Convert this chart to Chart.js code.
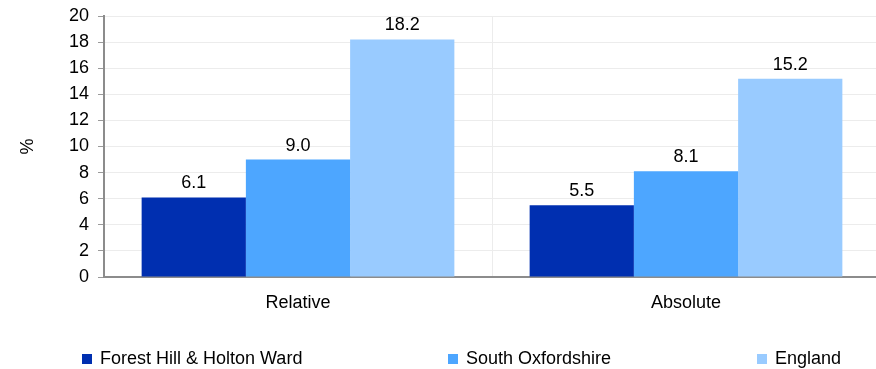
<!DOCTYPE html>
<html>
<head>
<meta charset="utf-8">
<script src="https://cdn.jsdelivr.net/npm/chart.js@4/dist/chart.umd.min.js"></script>
<style>
  html, body { margin: 0; padding: 0; background: #fff; overflow: hidden; width: 876px; height: 369px; }
  #wrap { position: relative; width: 876px; height: 369px; overflow: hidden; }
  canvas { position: absolute; left: 0; top: 0; }
  .lg { position: absolute; font-family: 'Liberation Sans', Arial, sans-serif; font-size: 18px; line-height: 18px; color: #000; white-space: nowrap; }
  .box { position: absolute; width: 10px; height: 10px; }
</style>
</head>
<body>
<div id="wrap">
  <canvas id="c" width="880" height="369"></canvas>
  <div id="legend"></div>
</div>
<script>
const categories = ["Relative", "Absolute"];
const seriesNames = ["Forest Hill & Holton Ward", "South Oxfordshire", "England"];
const forestHill = [6.1, 5.5];
const southOxfordshire = [9.0, 8.1];
const england = [18.2, 15.2];
const seriesColors = ["#002fb0", "#4da6ff", "#99cbff"];
const yTicks = [0, 2, 4, 6, 8, 10, 12, 14, 16, 18, 20];

const FONT = "'Liberation Sans', Arial, sans-serif";
const FS = 18;

const valueLabels = {
  id: 'valueLabels',
  afterDatasetsDraw(chart) {
    const ctx = chart.ctx;
    ctx.save();
    ctx.font = FS + "px " + FONT;
    ctx.fillStyle = "#000";
    ctx.textAlign = "center";
    ctx.textBaseline = "alphabetic";
    chart.data.datasets.forEach((ds, i) => {
      const meta = chart.getDatasetMeta(i);
      meta.data.forEach((el, j) => {
        ctx.fillText(ds.data[j].toFixed(1), el.x, el.y - 9);
      });
    });
    ctx.restore();
  }
};

const allSeries = [forestHill, southOxfordshire, england];

new Chart(document.getElementById('c'), {
  type: 'bar',
  data: {
    labels: categories,
    datasets: allSeries.map((d, i) => ({
      label: seriesNames[i],
      data: d,
      backgroundColor: seriesColors[i],
      borderWidth: 0,
      barPercentage: 1.0,
      categoryPercentage: 0.806
    }))
  },
  options: {
    responsive: false,
    animation: false,
    devicePixelRatio: 1,
    layout: { padding: { top: 16, right: 0, bottom: 0, left: 0 } },
    plugins: {
      legend: { display: false },
      tooltip: { enabled: false }
    },
    scales: {
      x: {
        grid: { color: '#ececec', lineWidth: 1, drawTicks: false, offset: true },
        border: { color: '#8c8c8c', width: 2 },
        ticks: { font: { family: FONT, size: FS }, color: '#000', padding: 15 },
        afterFit(scale) { scale.height = 92; scale.paddingLeft = 0; scale.paddingRight = 0; }
      },
      y: {
        min: 0, max: 20,
        afterBuildTicks(scale) { scale.ticks = yTicks.map(v => ({ value: v })); },
        grid: { color: '#ececec', lineWidth: 1, tickLength: 6, tickColor: '#9a9a9a' },
        border: { color: '#8c8c8c', width: 2 },
        ticks: { font: { family: FONT, size: FS }, color: '#000', padding: 9 },
        title: { display: true, text: '%', font: { family: FONT, size: FS }, color: '#000', padding: { top: 17, bottom: 0 } },
        afterFit(scale) { scale.width = 104; scale.paddingTop = 0; scale.paddingBottom = 0; }
      }
    }
  },
  plugins: [valueLabels]
});

// Legend (HTML, positioned like the reference)
const legendX = [82, 448, 757];
const legend = document.getElementById('legend');
seriesNames.forEach((name, i) => {
  const b = document.createElement('div');
  b.className = 'box';
  b.style.left = legendX[i] + 'px';
  b.style.top = '354px';
  b.style.background = seriesColors[i];
  legend.appendChild(b);
  const t = document.createElement('div');
  t.className = 'lg';
  t.style.left = (legendX[i] + 18) + 'px';
  t.style.top = '349px';
  t.textContent = name;
  legend.appendChild(t);
});
</script>
</body>
</html>
